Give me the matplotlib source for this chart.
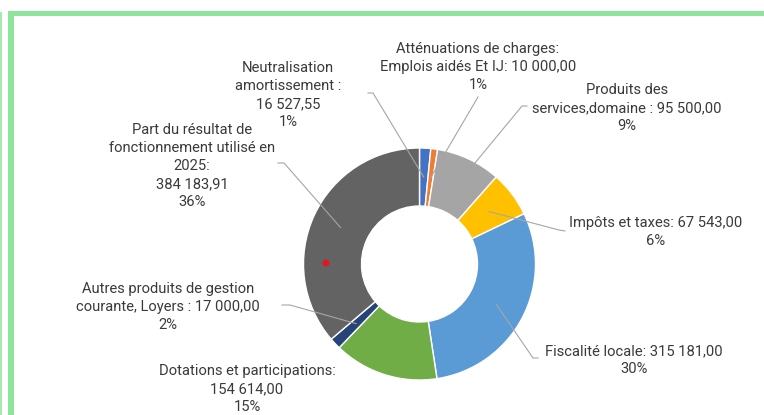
import numpy as np
import matplotlib
matplotlib.use("Agg")
import matplotlib.pyplot as plt
from matplotlib.patches import Rectangle, Circle

# données
categories = ["Neutralisation amortissement", "Atténuations de charges", "Produits des services",
              "Impôts et taxes", "Fiscalité locale", "Dotations et participations",
              "Autres produits de gestion courante", "Part du résultat de fonctionnement"]
valeurs = [16527.55, 10000.00, 95500.00, 67543.00, 315181.00, 154614.00, 17000.00, 384183.91]
pourcentages = ["1%", "1%", "9%", "6%", "30%", "15%", "2%", "36%"]
etiquettes = [
    "Neutralisation\namortissement :\n16 527,55",
    "Atténuations de charges:\nEmplois aidés Et IJ: 10 000,00",
    "Produits des\nservices,domaine : 95 500,00",
    "Impôts et taxes: 67 543,00",
    "Fiscalité locale: 315 181,00",
    "Dotations et participations:\n154 614,00",
    "Autres produits de gestion\ncourante, Loyers : 17 000,00",
    "Part du résultat de\nfonctionnement utilisé en\n2025:\n384 183,91",
]
couleurs = ["#4472C4", "#ED7D31", "#A5A5A5", "#FFC000", "#5B9BD5", "#70AD47", "#264478", "#636363"]

W, H = 764, 415
plt.rcParams['font.family'] = ['Roboto', 'DejaVu Sans']

fig = plt.figure(figsize=(W / 100, H / 100), dpi=100)
ax = fig.add_axes([0, 0, 1, 1])

cx, cy, R = 419.5, H - 264, 116
ax.pie(valeurs, colors=couleurs, startangle=90, counterclock=False, radius=R,
       center=(cx, cy), wedgeprops=dict(width=R / 2, edgecolor="white", linewidth=1))

# cadre vert (bord du graphique)
vert = "#8EE49A"
ax.add_patch(Rectangle((8, 0), 6, H - 11, color=vert, lw=0))
ax.add_patch(Rectangle((8, H - 16), W, 5, color=vert, lw=0))
ax.add_patch(Rectangle((0, 0), 1.7, H - 12, color=vert, lw=0, alpha=0.8))

# position des étiquettes (pixels, y vers le bas) et point de départ du trait
pos_texte = [(288, 95), (478, 67), (627, 108), (656, 232), (634, 360), (247, 389), (168, 307), (192, 166)]
depart_trait = [[(368, 93), (373, 93)], [(478, 97)], [(527, 106), (522, 106)], [(565, 231), (559, 230)],
                [(538, 358), (533, 358)], None, [(282, 305), (290, 305)], [(278, 163), (284, 163)]]

total = sum(valeurs)
cumul = np.cumsum([0] + valeurs)
for i, (txt, pct) in enumerate(zip(etiquettes, pourcentages)):
    x, y = pos_texte[i]
    ax.text(x, H - y, txt + "\n" + pct, ha="center", va="center", fontsize=10.6,
            color="#3A3A3A", linespacing=1.36)
    if depart_trait[i] is None:
        continue
    milieu = np.deg2rad((cumul[i] + valeurs[i] / 2) / total * 360)
    px = cx + 0.75 * R * np.sin(milieu)
    py = cy + 0.75 * R * np.cos(milieu)
    xs = [p[0] for p in depart_trait[i]] + [px]
    ys = [H - p[1] for p in depart_trait[i]] + [py]
    ax.plot(xs, ys, color="#A6A6A6", lw=0.8)

ax.add_patch(Circle((326, H - 263), 2.7, color="#E8141B", zorder=5))

ax.set_xlim(0, W)
ax.set_ylim(0, H)
ax.axis("off")
fig.savefig("out.png", dpi=100)
